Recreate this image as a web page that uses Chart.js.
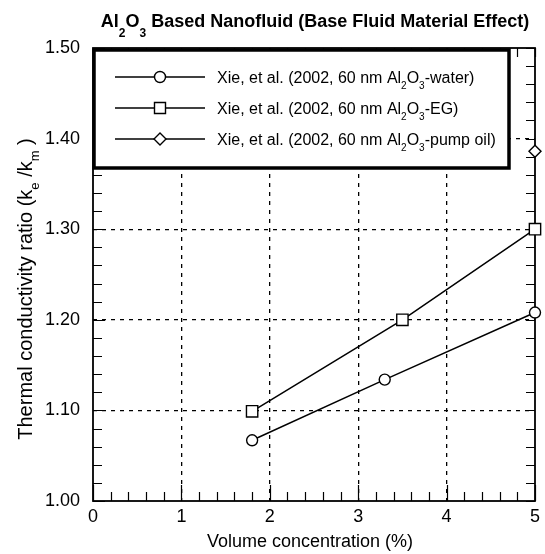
<!DOCTYPE html>
<html>
<head>
<meta charset="utf-8">
<script src="https://cdn.jsdelivr.net/npm/chart.js@4"></script>
<style>
  html, body { margin: 0; padding: 0; background: #fff; }
</style>
</head>
<body>
<canvas id="chart" width="545" height="554"></canvas>
<script>
// data
const volWater = [1.8, 3.3, 5.0];
const ratioWater = [1.067, 1.134, 1.208];
const volEG = [1.8, 3.5, 5.0];
const ratioEG = [1.099, 1.200, 1.300];
const volOil = [5.0];
const ratioOil = [1.386];

// "_x" marks a subscript character
const seriesLabels = [
    'Xie, et al. (2002, 60 nm Al_2O_3-water)',
    'Xie, et al. (2002, 60 nm Al_2O_3-EG)',
    'Xie, et al. (2002, 60 nm Al_2O_3-pump oil)'
];
const seriesMarkers = ['circle', 'rect', 'rectRot'];
const titleText = 'Al_2O_3 Based Nanofluid (Base Fluid Material Effect)';
const xTitle = 'Volume concentration (%)';
const yTitle = 'Thermal conductivity ratio (k_e /k_m )';

const FONT = '"Liberation Sans", Arial, Helvetica, sans-serif';

function toPoints(xs, ys) {
    return xs.map((x, i) => ({ x: x, y: ys[i] }));
}

function richParts(text) {
    const parts = [];
    const re = /_(.)/g;
    let last = 0, m;
    while ((m = re.exec(text))) {
        if (m.index > last) parts.push({ t: text.slice(last, m.index), sub: false });
        parts.push({ t: m[1], sub: true });
        last = re.lastIndex;
    }
    if (last < text.length) parts.push({ t: text.slice(last), sub: false });
    return parts;
}

function drawRich(ctx, text, x, y, size, opts) {
    opts = opts || {};
    const weight = opts.bold ? 'bold ' : '';
    const subSize = Math.round(size * 0.65);
    const subDrop = size * (opts.subDrop || 0.4);
    const parts = richParts(text);
    let total = 0;
    parts.forEach(p => {
        ctx.font = weight + (p.sub ? subSize : size) + 'px ' + FONT;
        p.w = ctx.measureText(p.t).width;
        total += p.w;
    });
    let cx = opts.align === 'center' ? x - total / 2 : x;
    ctx.textAlign = 'left';
    ctx.textBaseline = 'alphabetic';
    ctx.fillStyle = '#000';
    parts.forEach(p => {
        ctx.font = weight + (p.sub ? subSize : size) + 'px ' + FONT;
        ctx.fillText(p.t, cx, y + (p.sub ? subDrop : 0));
        cx += p.w;
    });
}

function drawMarker(ctx, style, x, y, r) {
    ctx.beginPath();
    if (style === 'circle') {
        ctx.arc(x, y, r, 0, Math.PI * 2);
    } else if (style === 'rect') {
        ctx.rect(x - r, y - r, r * 2, r * 2);
    } else {
        ctx.moveTo(x, y - r); ctx.lineTo(x + r, y); ctx.lineTo(x, y + r); ctx.lineTo(x - r, y);
        ctx.closePath();
    }
    ctx.fillStyle = '#fff';
    ctx.fill();
    ctx.stroke();
}

const decorations = {
    id: 'decorations',
    beforeDatasetsDraw(chart) {
        const ctx = chart.ctx;
        const a = chart.chartArea;
        const xs = chart.scales.x, ys = chart.scales.y;
        ctx.save();
        ctx.strokeStyle = '#000';
        ctx.lineWidth = 1.2;
        ctx.beginPath();
        // inward ticks on all four sides
        for (let i = 0; i <= 25; i++) {
            const px = Math.round(xs.getPixelForValue(i / 5)) + 0.5;
            const len = i % 5 === 0 ? 16 : 9;
            ctx.moveTo(px, a.bottom); ctx.lineTo(px, a.bottom - len);
            ctx.moveTo(px, a.top); ctx.lineTo(px, a.top + 9);
        }
        for (let i = 0; i <= 25; i++) {
            const py = Math.round(ys.getPixelForValue(1 + i * 0.02)) + 0.5;
            const len = i % 5 === 0 ? 12 : 9;
            ctx.moveTo(a.left, py); ctx.lineTo(a.left + len, py);
            ctx.moveTo(a.right, py); ctx.lineTo(a.right - 9, py);
        }
        ctx.stroke();
        ctx.lineWidth = 1.8;
        ctx.strokeRect(a.left, a.top, a.right - a.left, a.bottom - a.top);
        ctx.restore();
    },
    afterDatasetsDraw(chart) {
        const ctx = chart.ctx;
        const a = chart.chartArea;
        ctx.save();
        // legend box
        const bx = a.left, by = a.top + 1, bw = 417, bh = 120;
        ctx.fillStyle = '#fff';
        ctx.fillRect(bx, by, bw, bh);
        ctx.strokeStyle = '#000';
        ctx.lineWidth = 3.5;
        ctx.strokeRect(bx + 1, by + 1, bw - 2, bh - 2);
        const rowY = [77, 108, 139];
        chart.data.datasets.forEach((ds, i) => {
            const y = rowY[i];
            ctx.strokeStyle = '#000';
            ctx.lineWidth = 1.4;
            ctx.beginPath();
            ctx.moveTo(115, y); ctx.lineTo(205, y);
            ctx.stroke();
            drawMarker(ctx, seriesMarkers[i], 160, y, i === 2 ? 6 : 5.5);
            drawRich(ctx, seriesLabels[i], 217, y + 6, 16, { subDrop: 0.4 });
        });
        // title and axis titles
        drawRich(ctx, titleText, 315, 27, 18, { bold: true, align: 'center', subDrop: 0.55 });
        drawRich(ctx, xTitle, 310, 547, 18, { align: 'center' });
        ctx.translate(32, 289);
        ctx.rotate(-Math.PI / 2);
        drawRich(ctx, yTitle, 0, 0, 20, { align: 'center', subDrop: 0.35 });
        ctx.restore();
    }
};

const lineStyle = {
    borderColor: '#000',
    borderWidth: 1.5,
    backgroundColor: '#fff',
    pointBorderColor: '#000',
    pointBackgroundColor: '#fff',
    pointBorderWidth: 1.4,
    clip: false,
    tension: 0
};

new Chart(document.getElementById('chart'), {
    type: 'line',
    data: {
        datasets: [
            Object.assign({ label: seriesLabels[0], data: toPoints(volWater, ratioWater), pointStyle: 'circle', pointRadius: 5.5 }, lineStyle),
            Object.assign({ label: seriesLabels[1], data: toPoints(volEG, ratioEG), pointStyle: 'rect', pointRadius: 8 }, lineStyle),
            Object.assign({ label: seriesLabels[2], data: toPoints(volOil, ratioOil), pointStyle: 'rectRot', pointRadius: 6 }, lineStyle)
        ]
    },
    options: {
        responsive: false,
        animation: false,
        devicePixelRatio: 1,
        layout: { padding: { top: 48, right: 6, left: 0, bottom: 0 } },
        plugins: { legend: { display: false }, tooltip: { enabled: false }, title: { display: false } },
        scales: {
            x: {
                type: 'linear',
                min: 0, max: 5,
                afterFit(s) { s.height = 53; },
                ticks: { stepSize: 1, color: '#000', padding: 5, font: { size: 18, family: FONT } },
                grid: {
                    drawTicks: false,
                    lineWidth: 1.3,
                    color: c => (c.tick && c.tick.value > 0.01 && c.tick.value < 4.99) ? '#000' : 'rgba(0,0,0,0)'
                },
                border: { display: false, dash: [4, 5] }
            },
            y: {
                min: 1.0, max: 1.5,
                afterFit(s) { s.width = 93; },
                ticks: {
                    stepSize: 0.1, color: '#000', padding: 13,
                    font: { size: 18, family: FONT },
                    callback: v => Number(v).toFixed(2)
                },
                grid: {
                    drawTicks: false,
                    lineWidth: 1.3,
                    color: c => (c.tick && c.tick.value > 1.001 && c.tick.value < 1.499) ? '#000' : 'rgba(0,0,0,0)'
                },
                border: { display: false, dash: [4, 5] }
            }
        }
    },
    plugins: [decorations]
});
</script>
</body>
</html>
